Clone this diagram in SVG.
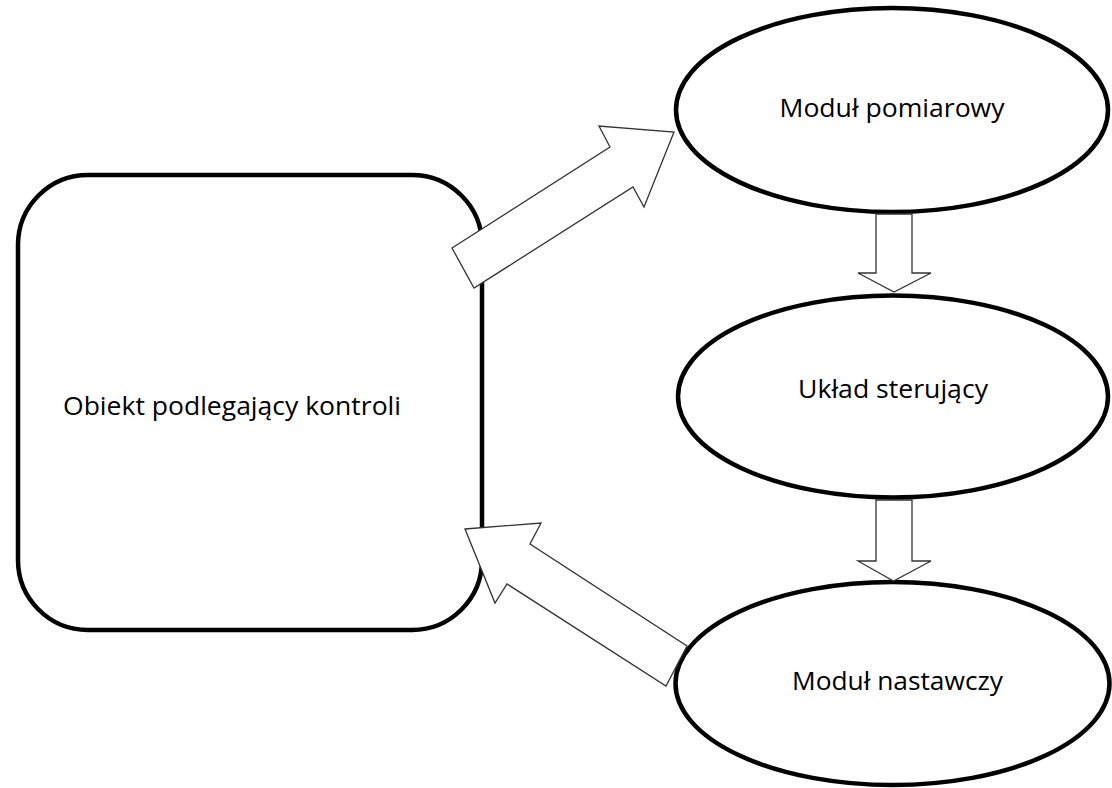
<svg xmlns="http://www.w3.org/2000/svg" width="1112" height="788" viewBox="0 0 1112 788">
<style>
.node{fill:#fff;stroke:#000;stroke-width:4.5}
.arrow{fill:#fff;stroke:#333;stroke-width:1.3;stroke-linejoin:miter}
.lbl{font-family:"Open Sans","Noto Sans",sans-serif;font-size:25.5px;font-weight:500;fill:#000;text-anchor:middle}
</style>
<rect width="1112" height="788" fill="#fff"/>
<g id="obiekt">
<rect class="node" x="18" y="175" width="464" height="455" rx="70" ry="70"/>
<text class="lbl" x="232" y="415" textLength="338" lengthAdjust="spacingAndGlyphs">Obiekt podlegający kontroli</text>
</g>
<g id="modul-pomiarowy">
<ellipse class="node" cx="892" cy="110" rx="216" ry="102"/>
<text class="lbl" x="892" y="117" textLength="225" lengthAdjust="spacingAndGlyphs">Moduł pomiarowy</text>
</g>
<g id="uklad-sterujacy">
<ellipse class="node" cx="893" cy="396.5" rx="215" ry="101"/>
<text class="lbl" x="893" y="398" textLength="190" lengthAdjust="spacingAndGlyphs">Układ sterujący</text>
</g>
<g id="modul-nastawczy">
<ellipse class="node" cx="892.5" cy="683.5" rx="217" ry="101.5"/>
<text class="lbl" x="897.5" y="690" textLength="211" lengthAdjust="spacingAndGlyphs">Moduł nastawczy</text>
</g>
<g id="connectors">
<polygon class="arrow" points="452,248 610,147 599,126 674,132 644,207 633,187 474,288"/>
<polygon class="arrow" points="465,529 541,523 530,544 687,646 666,686 507,584 495,603"/>
<polygon class="arrow" points="876,214 912,214 912,273 931,273 894,292 858,273 876,273"/>
<polygon class="arrow" points="876,500 912,500 912,561 931,561 893.5,581 858,561 876,561"/>
</g>
</svg>
